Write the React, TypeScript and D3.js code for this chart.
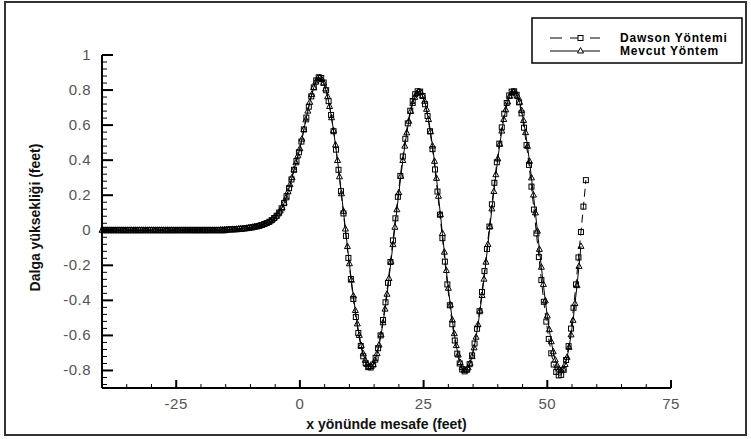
import React from "react";
import * as d3 from "d3";

// ---- Data ----
// Mevcut Yöntem: x = -40 + 0.4*i (feet)
const mevcutX0 = -40;
const mevcutStep = 0.4;
const mevcutY = [
  0, 0, 0, 0, 0, 0, 0, 0, 0, 0, // -40
  0, 0, 0, 0, 0, 0, 0, 0, 0, 0, // -36
  0, 0, 0, 0, 0, 0, 0, 0, 0, 0, // -32
  0, 0, 0, 0, 0, 0, 0, 0, 0, 0, // -28
  0, 0, 0, 0, 0, 0, 0, 0, 0, 0, // -24
  0, 0, 0, 0, 0, 0, 0, 0, 0, 0, // -20
  0.002, 0.002, 0.003, 0.003, 0.004, 0.004, 0.005, 0.005, 0.006, 0.007, // -16
  0.008, 0.009, 0.010, 0.011, 0.013, 0.015, 0.017, 0.019, 0.021, 0.024, // -12
  0.027, 0.031, 0.035, 0.039, 0.045, 0.052, 0.060, 0.070, 0.080, 0.093, // -8
  0.110, 0.130, 0.155, 0.185, 0.220, 0.260, 0.300, 0.345, 0.385, 0.425, // -4
  0.465, 0.520, 0.575, 0.630, 0.680, 0.730, 0.775, 0.815, 0.845, 0.865, // 0
  0.870, 0.860, 0.839, 0.806, 0.762, 0.706, 0.642, 0.568, 0.486, 0.398, // 4
  0.305, 0.208, 0.108, 0.007, -0.093, -0.191, -0.285, -0.375, -0.458, -0.534, // 8
  -0.600, -0.658, -0.705, -0.742, -0.766, -0.778, -0.778, -0.766, -0.741, -0.704, // 12
  -0.655, -0.596, -0.528, -0.450, -0.365, -0.275, -0.180, -0.082, 0.017, 0.117, // 16
  0.214, 0.308, 0.398, 0.480, 0.556, 0.622, 0.678, 0.724, 0.758, 0.780, // 20
  0.790, 0.786, 0.768, 0.736, 0.690, 0.632, 0.562, 0.481, 0.393, 0.296, // 24
  0.194, 0.089, -0.018, -0.125, -0.230, -0.331, -0.426, -0.512, -0.590, -0.658, // 28
  -0.712, -0.755, -0.784, -0.798, -0.798, -0.785, -0.759, -0.721, -0.671, -0.610, // 32
  -0.539, -0.460, -0.372, -0.279, -0.182, -0.081, 0.021, 0.122, 0.221, 0.317, // 36
  0.407, 0.491, 0.566, 0.632, 0.687, 0.732, 0.764, 0.783, 0.790, 0.783, // 40
  0.763, 0.730, 0.683, 0.626, 0.557, 0.479, 0.393, 0.299, 0.201, 0.099, // 44
  -0.005, -0.109, -0.211, -0.309, -0.403, -0.489, -0.567, -0.636, -0.693, -0.740, // 48
  -0.773, -0.793, -0.800, -0.792, -0.766, -0.725, -0.668, -0.597, -0.514, -0.419, // 52
  -0.316, -0.206, -0.092, // 56
];

// Dawson Yöntemi: x = -39.7 + 0.5*i (feet)
const dawsonX0 = -39.7;
const dawsonStep = 0.5;
const dawsonY = [
  0, 0, 0, 0, 0, 0, 0, 0, 0, 0, // -39.7
  0, 0, 0, 0, 0, 0, 0, 0, 0, 0, // -34.7
  0, 0, 0, 0, 0, 0, 0, 0, 0, 0, // -29.7
  0, 0, 0, 0, 0, 0, 0, 0, 0, 0, // -24.7
  0, 0, 0, 0, 0, 0, 0, 0, 0, 0, // -19.7
  0.003, 0.004, 0.005, 0.005, 0.006, 0.007, 0.009, 0.010, 0.012, 0.014, // -14.7
  0.016, 0.019, 0.022, 0.025, 0.030, 0.035, 0.041, 0.048, 0.058, 0.070, // -9.7
  0.083, 0.101, 0.125, 0.155, 0.194, 0.240, 0.290, 0.345, 0.395, 0.445, // -4.7
  0.506, 0.575, 0.643, 0.705, 0.764, 0.815, 0.855, 0.873, 0.869, 0.843, // 0.3
  0.799, 0.737, 0.658, 0.565, 0.460, 0.345, 0.223, 0.096, -0.032, -0.158, // 5.3
  -0.278, -0.392, -0.495, -0.586, -0.660, -0.719, -0.759, -0.781, -0.783, -0.766, // 10.3
  -0.728, -0.673, -0.600, -0.512, -0.411, -0.300, -0.181, -0.058, 0.068, 0.191, // 15.3
  0.310, 0.421, 0.522, 0.610, 0.682, 0.738, 0.776, 0.793, 0.791, 0.766, // 20.3
  0.719, 0.652, 0.565, 0.463, 0.347, 0.221, 0.089, -0.045, -0.179, -0.309, // 25.3
  -0.428, -0.536, -0.629, -0.704, -0.760, -0.794, -0.805, -0.795, -0.764, -0.714, // 30.3
  -0.646, -0.562, -0.462, -0.352, -0.233, -0.107, 0.021, 0.148, 0.271, 0.388, // 35.3
  0.494, 0.587, 0.665, 0.726, 0.769, 0.791, 0.793, 0.773, 0.730, 0.667, // 40.3
  0.585, 0.486, 0.373, 0.249, 0.118, -0.018, -0.153, -0.284, -0.408, -0.521, // 45.3
  -0.620, -0.702, -0.766, -0.808, -0.828, -0.825, -0.796, -0.740, -0.661, -0.561, // 50.3
  -0.442, -0.309, -0.155, -0.010, 0.135, 0.286, // 55.3
];

const xMajorTicks = [-25, 0, 25, 50, 75];
const xTickLabels = ["-25", "0", "25", "50", "75"];
const yMajorTicks = [-0.8, -0.6, -0.4, -0.2, 0, 0.2, 0.4, 0.6, 0.8, 1];
const yTickLabels = ["-0.8", "-0.6", "-0.4", "-0.2", "0", "0.2", "0.4", "0.6", "0.8", "1"];
const seriesNames = ["Dawson Yöntemi", "Mevcut Yöntem"];
const xTitle = "x yönünde mesafe (feet)";
const yTitle = "Dalga yüksekliği (feet)";

type Pt = { x: number; y: number };

export default function App() {
  const W = 751;
  const H = 439;
  const left = 102;
  const right = 671;
  const top = 55;
  const bottom = 388;

  const x = d3.scaleLinear().domain([-40, 75]).range([left, right]);
  const y = d3.scaleLinear().domain([-0.9, 1.0]).range([bottom, top]);

  const mevcut: Pt[] = mevcutY.map((v, i) => ({ x: +(mevcutX0 + i * mevcutStep).toFixed(2), y: v }));
  const dawson: Pt[] = dawsonY.map((v, i) => ({ x: +(dawsonX0 + i * dawsonStep).toFixed(2), y: v }));

  const line = d3
    .line<Pt>()
    .x((d) => x(d.x))
    .y((d) => y(d.y));

  const xMinor = d3.range(-40, 75.001, 5).filter((v) => !xMajorTicks.includes(v));
  const yMinor = d3
    .range(-0.88, 1.0001, 0.04)
    .map((v) => +v.toFixed(2))
    .filter((v) => !yMajorTicks.some((m) => Math.abs(m - v) < 1e-6));

  const tri = (cx: number, cy: number) =>
    `M${cx},${cy - 3.5}L${cx + 3},${cy + 2}L${cx - 3},${cy + 2}Z`;

  const labelFont = "'Liberation Sans', Arial, sans-serif";

  return (
    <svg
      width={W}
      height={H}
      style={{ position: "absolute", left: 0, top: 0, background: "#fff" }}
    >
      <rect x={0} y={0} width={W} height={H} fill="#fff" />
      {/* outer frame */}
      <rect x={5} y={2} width={741} height={433} fill="none" stroke="#333" strokeWidth={2} />

      {/* axes */}
      <line x1={left} y1={top} x2={left} y2={bottom} stroke="#000" strokeWidth={2} />
      <line x1={left} y1={bottom} x2={right} y2={bottom} stroke="#000" strokeWidth={2} />

      {/* x ticks */}
      {xMajorTicks.map((t, i) => (
        <g key={"xt" + t}>
          <line x1={x(t)} x2={x(t)} y1={bottom} y2={bottom - 8} stroke="#000" strokeWidth={2} />
          <text
            x={x(t)}
            y={409}
            textAnchor="middle"
            fontFamily={labelFont}
            fontSize={15}
            fill="#555"
            letterSpacing={0.5}
          >
            {xTickLabels[i]}
          </text>
        </g>
      ))}
      {xMinor.map((t) => (
        <line key={"xm" + t} x1={x(t)} x2={x(t)} y1={bottom} y2={bottom - 4} stroke="#000" strokeWidth={1} />
      ))}

      {/* y ticks */}
      {yMajorTicks.map((t, i) => (
        <g key={"yt" + t}>
          <line x1={left} x2={left + 11} y1={y(t)} y2={y(t)} stroke="#000" strokeWidth={2} />
          <text
            x={91}
            y={y(t) + 5}
            textAnchor="end"
            fontFamily={labelFont}
            fontSize={15}
            fill="#555"
            letterSpacing={0.5}
          >
            {yTickLabels[i]}
          </text>
        </g>
      ))}
      {yMinor.map((t) => (
        <line key={"ym" + t} x1={left} x2={left + 5} y1={y(t)} y2={y(t)} stroke="#000" strokeWidth={1} />
      ))}

      {/* axis titles */}
      <text
        x={(left + right) / 2}
        y={429}
        textAnchor="middle"
        fontFamily={labelFont}
        fontWeight="bold"
        fontSize={14}
        fill="#111"
      >
        {xTitle}
      </text>
      <text
        transform={`translate(40, ${(top + bottom) / 2 - 4}) rotate(-90)`}
        textAnchor="middle"
        fontFamily={labelFont}
        fontWeight="bold"
        fontSize={14}
        fill="#111"
      >
        {yTitle}
      </text>

      {/* Dawson: dashed with squares */}
      <path d={line(dawson) || ""} fill="none" stroke="#000" strokeWidth={1} strokeDasharray="8,5" />
      {dawson.map((d, i) => (
        <rect
          key={"ds" + i}
          x={x(d.x) - 2.5}
          y={y(d.y) - 2.5}
          width={5}
          height={5}
          fill="none"
          stroke="#000"
          strokeWidth={1}
        />
      ))}

      {/* Mevcut: solid with triangles */}
      <path d={line(mevcut) || ""} fill="none" stroke="#000" strokeWidth={1} />
      {mevcut.map((d, i) => (
        <path key={"mt" + i} d={tri(x(d.x), y(d.y))} fill="none" stroke="#000" strokeWidth={1} />
      ))}

      {/* legend */}
      <rect x={532} y={18} width={210} height={45} fill="#fff" stroke="#000" strokeWidth={1.5} />
      <line x1={550} x2={600} y1={38} y2={38} stroke="#000" strokeWidth={1} strokeDasharray="12,8" />
      <rect x={578} y={35.5} width={5} height={5} fill="#fff" stroke="#000" strokeWidth={1} />
      <text x={620} y={42} fontFamily={labelFont} fontWeight="bold" fontSize={12} fill="#000" letterSpacing={0.8}>
        {seriesNames[0]}
      </text>
      <line x1={550} x2={600} y1={51} y2={51} stroke="#000" strokeWidth={1} />
      <path d={tri(580.5, 51)} fill="#fff" stroke="#000" strokeWidth={1} />
      <text x={620} y={55} fontFamily={labelFont} fontWeight="bold" fontSize={12} fill="#000" letterSpacing={0.8}>
        {seriesNames[1]}
      </text>
    </svg>
  );
}
